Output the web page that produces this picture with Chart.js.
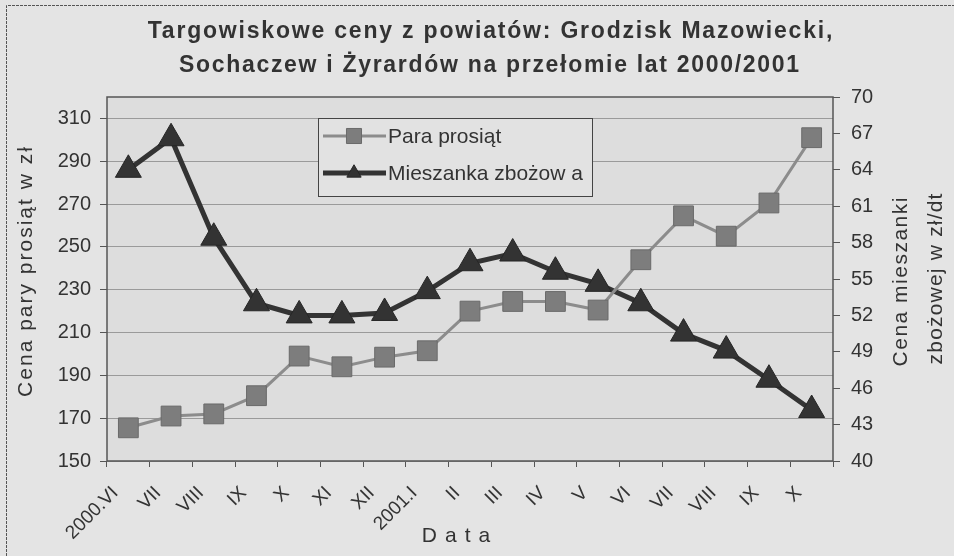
<!DOCTYPE html>
<html>
<head>
<meta charset="utf-8">
<script src="https://cdn.jsdelivr.net/npm/chart.js@4"></script>
<style>
    html, body { margin: 0; padding: 0; background: #e4e4e4; }
    #wrap { width: 954px; height: 556px; }
</style>
</head>
<body>
<div id="wrap"><canvas id="wykres" width="954" height="556"></canvas></div>
<script>
// dane
const MIESIACE = ['2000.VI', 'VII', 'VIII', 'IX', 'X', 'XI', 'XII', '2001.I', 'II', 'III', 'IV', 'V', 'VI', 'VII', 'VIII', 'IX', 'X'];
const PARA_PROSIAT = [165.5, 171, 172, 180.5, 199, 194, 198.5, 201.5, 220, 224.5, 224.5, 220.5, 244, 264.5, 255, 270.5, 301];
const MIESZANKA = [64, 66.6, 58.4, 53, 52, 52, 52.2, 54, 56.3, 57.1, 55.6, 54.6, 53, 50.5, 49.1, 46.7, 44.2];
const TICKI_LEWE = [150, 170, 190, 210, 230, 250, 270, 290, 310];
const TICKI_PRAWE = [40, 43, 46, 49, 52, 55, 58, 61, 64, 67, 70];

const TYTUL = ['Targowiskowe ceny z powiatów: Grodzisk Mazowiecki,', 'Sochaczew i Żyrardów na przełomie lat 2000/2001'];
const FONT = '"Liberation Sans", Arial, sans-serif';
const TEKST = '#333';

const tloWykresu = {
    id: 'tloWykresu',
    beforeDraw(chart) {
        const { ctx, chartArea: a } = chart;
        ctx.save();
        ctx.fillStyle = '#dddddd';
        ctx.fillRect(a.left, a.top, a.right - a.left, a.bottom - a.top);
        ctx.restore();
    },
};

// tekst z rozstrzelonymi literami (jak w skanie)
function napis(ctx, tekst, x, y, odstep) {
    ctx.letterSpacing = `${odstep}px`;
    ctx.fillText(tekst, x + odstep / 2, y);
    ctx.letterSpacing = '0px';
}

const opisy = {
    id: 'opisy',
    afterDraw(chart) {
        const { ctx, chartArea: a } = chart;
        const osX = chart.scales.x;
        ctx.save();

        // ramka obrazka
        ctx.strokeStyle = '#555';
        ctx.lineWidth = 1;
        ctx.setLineDash([3, 1]);
        ctx.beginPath();
        ctx.moveTo(6.5, 556);
        ctx.lineTo(6.5, 5.5);
        ctx.lineTo(954, 5.5);
        ctx.stroke();
        ctx.setLineDash([]);

        // ramka obszaru wykresu
        ctx.strokeStyle = '#555';
        ctx.lineWidth = 1.5;
        ctx.strokeRect(a.left, a.top, a.right - a.left, a.bottom - a.top);

        // tytul
        ctx.fillStyle = TEKST;
        ctx.textAlign = 'center';
        ctx.textBaseline = 'alphabetic';
        ctx.font = `bold 23px ${FONT}`;
        napis(ctx, TYTUL[0], 490, 38, 1.8);
        napis(ctx, TYTUL[1], 489, 72, 1.7);

        // etykiety osi X (obrocone o 45 stopni)
        ctx.font = `19px ${FONT}`;
        ctx.textAlign = 'right';
        ctx.textBaseline = 'middle';
        MIESIACE.forEach((m, i) => {
            ctx.save();
            ctx.translate(osX.getPixelForValue(i) - 13, 490);
            ctx.rotate(-Math.PI / 4);
            ctx.fillText(m, 0, 0);
            ctx.restore();
        });

        // tytuly osi
        ctx.textAlign = 'center';
        ctx.font = `21px ${FONT}`;
        ctx.save();
        ctx.translate(26, 272);
        ctx.rotate(-Math.PI / 2);
        napis(ctx, 'Cena pary prosiąt w zł', 0, 0, 2);
        ctx.restore();

        ctx.save();
        ctx.translate(901, 282);
        ctx.rotate(-Math.PI / 2);
        napis(ctx, 'Cena mieszanki', 0, 0, 1.5);
        napis(ctx, 'zbożowej w zł/dt', 3, 35, 1.2);
        ctx.restore();

        ctx.textBaseline = 'alphabetic';
        napis(ctx, 'Data', 456, 542, 8);

        // legenda
        const lx = 318, ly = 118, lw = 274, lh = 78;
        ctx.fillStyle = '#e2e2e2';
        ctx.fillRect(lx, ly, lw, lh);
        ctx.strokeStyle = '#444';
        ctx.lineWidth = 1;
        ctx.strokeRect(lx + 0.5, ly + 0.5, lw, lh);

        ctx.textBaseline = 'middle';
        const skala = [0.76, 0.55];
        chart.data.datasets.forEach((ds, i) => {
            const y = i === 0 ? 136 : 173;
            ctx.strokeStyle = ds.borderColor;
            ctx.lineWidth = ds.borderWidth;
            ctx.beginPath();
            ctx.moveTo(323, y);
            ctx.lineTo(386, y);
            ctx.stroke();
            ctx.fillStyle = ds.pointBackgroundColor;
            ctx.strokeStyle = ds.pointBorderColor;
            ctx.lineWidth = ds.pointBorderWidth;
            Chart.helpers.drawPoint(ctx, {
                pointStyle: ds.pointStyle,
                radius: ds.pointRadius * skala[i],
                borderWidth: ds.pointBorderWidth,
            }, 354, y);
            ctx.fillStyle = TEKST;
            ctx.textAlign = 'left';
            ctx.font = `21px ${FONT}`;
            ctx.fillText(ds.label, 388, y + 1);
        });

        ctx.restore();
    },
};

new Chart(document.getElementById('wykres'), {
    type: 'line',
    data: {
        labels: MIESIACE,
        datasets: [
            {
                label: 'Para prosiąt',
                data: PARA_PROSIAT,
                yAxisID: 'yLewa',
                borderColor: '#8c8c8c',
                borderWidth: 3,
                pointStyle: 'rect',
                pointRadius: 14,
                pointBackgroundColor: '#7d7d7d',
                pointBorderColor: '#6a6a6a',
                pointBorderWidth: 1,
                tension: 0,
            },
            {
                label: 'Mieszanka zbożow a',
                data: MIESZANKA,
                yAxisID: 'yPrawa',
                borderColor: '#333',
                borderWidth: 5,
                pointStyle: 'triangle',
                pointRadius: 15,
                pointBackgroundColor: '#333',
                pointBorderColor: '#262626',
                pointBorderWidth: 1,
                tension: 0,
            },
        ],
    },
    options: {
        responsive: false,
        animation: false,
        layout: { padding: { top: 97, left: 0, right: 0, bottom: 0 } },
        plugins: { legend: { display: false }, tooltip: { enabled: false } },
        scales: {
            x: {
                offset: true,
                afterFit: (s) => { s.height = 95; },
                grid: { offset: true, drawOnChartArea: false, tickLength: 6, color: '#555' },
                border: { display: false },
                ticks: { display: false, autoSkip: false },
            },
            yLewa: {
                position: 'left',
                min: 150,
                max: 320,
                afterFit: (s) => { s.width = 107; },
                afterBuildTicks: (s) => { s.ticks = TICKI_LEWE.map((v) => ({ value: v })); },
                grid: { color: '#9a9a9a', tickLength: 7, tickColor: '#555' },
                border: { display: false },
                ticks: { padding: 9, color: TEKST, font: { family: FONT, size: 20 } },
            },
            yPrawa: {
                position: 'right',
                min: 40,
                max: 70,
                afterFit: (s) => { s.width = 121; },
                afterBuildTicks: (s) => { s.ticks = TICKI_PRAWE.map((v) => ({ value: v })); },
                grid: { drawOnChartArea: false, tickLength: 7, color: '#555' },
                border: { display: false },
                ticks: { padding: 11, color: TEKST, font: { family: FONT, size: 20 } },
            },
        },
    },
    plugins: [tloWykresu, opisy],
});
</script>
</body>
</html>
